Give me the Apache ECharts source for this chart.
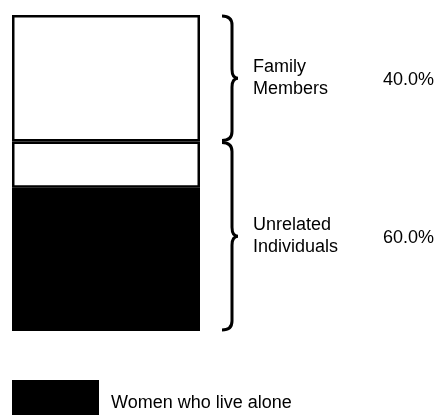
<!DOCTYPE html>
<html>
<head>
<meta charset="utf-8">
<script src="https://cdn.jsdelivr.net/npm/echarts@6/dist/echarts.min.js"></script>
<style>
  html, body { margin: 0; padding: 0; background: #fff; }
  #chart { width: 440px; height: 415px; }
</style>
</head>
<body>
<div id="chart"></div>
<script>
// ---- Data ----
const categories = ['Women'];
const aloneValues = [45.3];            // Women who live alone (black)
const otherUnrelatedValues = [14.7];   // Other unrelated individuals (white)
const familyValues = [40.0];           // Family members (white)
const groupNames = ['Unrelated\nIndividuals', 'Family\nMembers'];
const groupPercentLabels = ['60.0%', '40.0%'];
const legendLabels = ['Women who live alone'];

const FONT = '"Liberation Sans", Arial, Helvetica, sans-serif';

// group ranges (stacked) built from the series values
const unrelatedTop = aloneValues[0] + otherUnrelatedValues[0];
const familyTop = unrelatedTop + familyValues[0];
const braceData = [
  [0, 0, unrelatedTop, 0],
  [0, unrelatedTop, familyTop, 1]
];

function renderBrace(params, api) {
  const cat = api.value(0);
  const lo = api.value(1), hi = api.value(2), gi = api.value(3);
  const cx = api.coord([cat, lo])[0];
  const bw = api.size([1, 0])[0];
  const right = cx + bw / 2;
  const y1 = api.coord([cat, lo])[1] - 1;   // bottom
  const y0 = api.coord([cat, hi])[1] + 1;   // top
  const ym = (y0 + y1) / 2;
  const xh = right + 22, xs = right + 32, xt = right + 38;
  const r = 9;
  const path = 'M' + xh + ' ' + y0 +
    ' Q' + xs + ' ' + y0 + ' ' + xs + ' ' + (y0 + r) +
    ' L' + xs + ' ' + (ym - r) +
    ' Q' + xs + ' ' + ym + ' ' + xt + ' ' + ym +
    ' Q' + xs + ' ' + ym + ' ' + xs + ' ' + (ym + r) +
    ' L' + xs + ' ' + (y1 - r) +
    ' Q' + xs + ' ' + y1 + ' ' + xh + ' ' + y1;
  return {
    type: 'group',
    children: [
      { type: 'path', shape: { pathData: path },
        style: { fill: 'none', stroke: '#000', lineWidth: 3 } },
      { type: 'text',
        style: { text: groupNames[gi], x: right + 53, y: ym, verticalAlign: 'middle',
          fontSize: 18, lineHeight: 22, fontFamily: FONT, fill: '#000' } },
      { type: 'text',
        style: { text: groupPercentLabels[gi], x: right + 183, y: ym + 2, verticalAlign: 'middle',
          fontSize: 18, fontFamily: FONT, fill: '#000' } }
    ]
  };
}

const chart = echarts.init(document.getElementById('chart'), null, { renderer: 'canvas' });
const segStyle = (fill) => ({ color: fill, borderColor: '#000', borderWidth: 2.5 });

chart.setOption({
  backgroundColor: '#fff',
  animation: false,
  grid: { left: 12, right: 240, top: 15, bottom: 84 },
  xAxis: { type: 'category', data: categories, show: false },
  yAxis: { type: 'value', min: 0, max: 100, show: false },
  legend: {
    data: legendLabels,
    left: 12, top: 380,
    itemWidth: 85, itemHeight: 44,
    icon: 'rect',
    padding: 0,
    textStyle: { fontSize: 18, fontFamily: FONT, color: '#000', padding: [8, 0, 0, 8] },
    selectedMode: false
  },
  series: [
    { name: 'Women who live alone', type: 'bar', stack: 'total', data: aloneValues,
      barWidth: '100%', itemStyle: segStyle('#000') },
    { name: 'Other unrelated individuals', type: 'bar', stack: 'total', data: otherUnrelatedValues,
      barWidth: '100%', itemStyle: segStyle('#fff') },
    { name: 'Family members', type: 'bar', stack: 'total', data: familyValues,
      barWidth: '100%', itemStyle: segStyle('#fff') },
    { name: 'braces', type: 'custom', renderItem: renderBrace, data: braceData,
      clip: false, silent: true, encode: { x: 0, y: [1, 2] } }
  ]
});
</script>
</body>
</html>
